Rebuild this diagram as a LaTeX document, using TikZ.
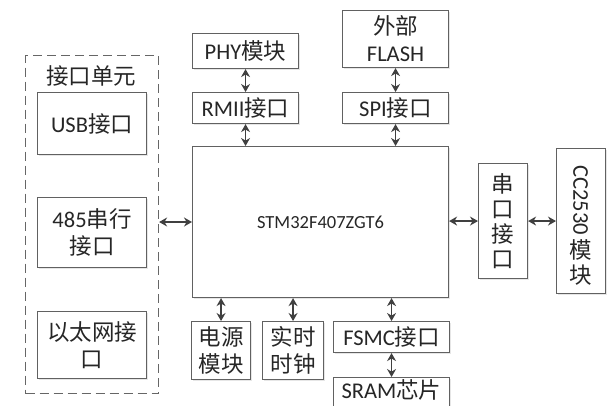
\documentclass[tikz,border=0pt]{standalone}
\usepackage{fontspec}
\setmainfont{Carlito}
\newfontfamily\cjk{Noto Sans CJK SC}
\usetikzlibrary{arrows.meta,shadows}
\begin{document}
\begin{tikzpicture}[x=1pt,y=-1pt,
  box/.style={draw=black!62, line width=1.1pt, fill=white, inner sep=0pt, anchor=north west,
    align=center, font=\fontsize{22.5}{27}\selectfont, text=black!85,
    drop shadow={opacity=0.2, shadow xshift=1.2pt, shadow yshift=-1.2pt}},
  group/.style={draw=black!60, line width=1.1pt, dash pattern=on 9pt off 5pt, inner sep=0pt, anchor=north west},
  lbl/.style={font=\fontsize{22.5}{27}\selectfont, text=black!85, inner sep=0pt},
  link/.style={{Stealth[length=8pt,width=9pt]}-{Stealth[length=8pt,width=9pt]}, line width=1.5pt, draw=black!75}]
\useasboundingbox (0,0) rectangle (607,405);

% interface group
\node[group, minimum width=133pt, minimum height=338pt] (unit) at (25,55) {};
\node[lbl] (unitlbl) at (91,76) {\cjk 接口单元};
\node[box, minimum width=109pt, minimum height=62pt] (usb) at (37,92) {USB{\cjk 接口}};
\node[box, minimum width=109pt, minimum height=70pt] (rs) at (37,197) {485{\cjk 串行}\\{\cjk 接口}};
\node[box, minimum width=109pt, minimum height=67pt] (eth) at (37,311) {\cjk 以太网接\\\cjk 口};

% MCU
\node[box, minimum width=256pt, minimum height=151pt, font=\fontsize{18.5}{24}\selectfont] (stm) at (192,146) {STM32F407ZGT6};

% top
\node[box, minimum width=106pt, minimum height=35pt] (phy) at (192,33) {PHY{\cjk 模块}};
\node[box, minimum width=106pt, minimum height=31pt] (rmii) at (192,92) {RMII{\cjk 接口}};
\node[box, minimum width=106pt, minimum height=57pt] (flash) at (342,10) {{\cjk 外部}\\FLASH};
\node[box, minimum width=106pt, minimum height=31pt] (spi) at (342,92) {SPI{\cjk 接口}};

% bottom
\node[box, minimum width=59pt, minimum height=58pt] (pwr) at (191,321) {\cjk 电源\\\cjk 模块};
\node[box, minimum width=61pt, minimum height=58pt] (rtc) at (262,321) {\cjk 实时\\\cjk 时钟};
\node[box, minimum width=116pt, minimum height=31pt] (fsmc) at (333,321) {FSMC{\cjk 接口}};
\node[box, minimum width=116pt, minimum height=30pt, text depth=3pt, text height=15pt] (sram) at (333,377) {SRAM{\cjk 芯片}};

% right
\node[box, minimum width=49pt, minimum height=115pt, font=\fontsize{22.5}{25}\selectfont] (uart) at (478,163) {\cjk 串\\\cjk 口\\\cjk 接\\\cjk 口};
\node[box, minimum width=49pt, minimum height=145pt] (cc) at (556,148) {};
\node[lbl, rotate=-90] (cctxt) at (580.5,200) {CC2530};
\node[lbl] (ccmo) at (580.5,250) {\cjk 模};
\node[lbl] (cckuai) at (580.5,275) {\cjk 块};

% connectors
\coordinate (y485) at (0,222);
\draw[link] (unit.east |- y485) -- (stm.west |- y485);
\draw[link] (phy) -- (rmii);
\draw[link] (rmii.south) -- (rmii.south |- stm.north);
\draw[link] (flash) -- (spi);
\draw[link] (spi.south) -- (spi.south |- stm.north);
\draw[link] (pwr.north |- stm.south) -- (pwr.north);
\draw[link] (rtc.north |- stm.south) -- (rtc.north);
\draw[link] (fsmc.north |- stm.south) -- (fsmc.north);
\draw[link] (fsmc) -- (sram);
\draw[link] (stm.east |- uart.west) -- (uart.west);
\draw[link] (uart.east) -- (uart.east -| cc.west);
\end{tikzpicture}
\end{document}
